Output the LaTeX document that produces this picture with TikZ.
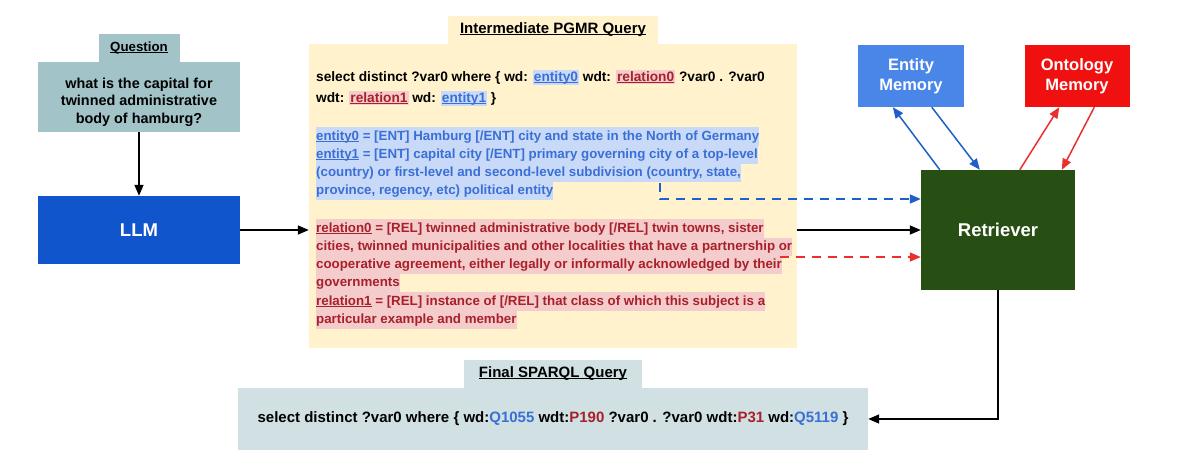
\documentclass[tikz,border=0pt]{standalone}
\usepackage{fontspec}
\setmainfont{Liberation Sans}
\usetikzlibrary{positioning,arrows.meta}

\definecolor{qgray}{HTML}{A2C4C9}
\definecolor{llmblue}{HTML}{1155CC}
\definecolor{pgmrbg}{HTML}{FFF2CC}
\definecolor{entbg}{HTML}{C9DAF8}
\definecolor{enttext}{HTML}{3A6FD6}
\definecolor{relbg}{HTML}{F4CCCC}
\definecolor{reltext}{HTML}{A8202A}
\definecolor{retgreen}{HTML}{274E13}
\definecolor{entmem}{HTML}{4A86E8}
\definecolor{ontmem}{HTML}{F01010}
\definecolor{finalbg}{HTML}{D0E0E3}
\definecolor{arrblue}{HTML}{1E5FC8}
\definecolor{arrred}{HTML}{E8302E}

\newsavebox{\undlbox}
\newcommand{\undl}[1]{\sbox{\undlbox}{#1}\rlap{\rule[-1.7pt]{\wd\undlbox}{0.9pt}}\usebox{\undlbox}}
\newcommand{\entmark}[1]{{\fboxsep=1pt\colorbox{entbg}{\color{enttext}\undl{#1}}}}
\newcommand{\relmark}[1]{{\fboxsep=1pt\colorbox{relbg}{\color{reltext}\undl{#1}}}}
\newcommand{\hlrow}[2]{{\fboxsep=0pt\colorbox{#1}{\strut #2}}}

\begin{document}
\begin{tikzpicture}[x=1pt,y=-1pt,
  box/.style={inner sep=0pt, align=center},
  tab/.style={inner sep=0pt, minimum height=28pt, font=\bfseries\fontsize{15}{17}\selectfont},
  conn/.style={-{Triangle[length=11pt,width=9pt]}, line width=1.5pt},
  dconn/.style={conn, dash pattern=on 9pt off 7pt}]
\useasboundingbox (0,0) rectangle (1179,464);

% question and llm
\node[box, fill=qgray, minimum width=202pt, minimum height=70pt] (question) at (139,97) {};
\node[box, font=\bfseries\fontsize{14.4}{17.5}\selectfont] (qtext) at (139,102)
  {what is the capital for\\twinned administrative\\body of hamburg?};
\node[tab, fill=qgray, minimum width=81pt, above=0pt of question,
  font=\bfseries\fontsize{13.3}{15}\selectfont] (qtab) {\undl{Question}};
\node[box, fill=llmblue, text=white, minimum width=202pt, minimum height=68pt,
  font=\bfseries\fontsize{18.5}{21}\selectfont] (llm) at (139,230) {LLM};

% intermediate query
\node[box, fill=pgmrbg, minimum width=488pt, minimum height=304pt] (pgmr) at (553,196) {};
\node[tab, fill=pgmrbg, minimum width=210pt, above=0pt of pgmr] (pgmrtab) {\undl{Intermediate PGMR Query}};

\node[inner sep=0pt, align=left, anchor=north west, font=\bfseries\fontsize{13.7}{21}\selectfont]
  (select) at (316,70)
  {select distinct ?var0 where \{ wd: \entmark{entity0} wdt: \relmark{relation0} ?var0 . ?var0\\
   wdt: \relmark{relation1} wd: \entmark{entity1} \}};

\node[inner sep=0pt, align=left, anchor=north west, text=enttext,
  font=\bfseries\fontsize{13.3}{18.3}\selectfont] (entdef) at (316,127)
  {\hlrow{entbg}{\undl{entity0} = [ENT] Hamburg [/ENT] city and state in the North of Germany}\\
   \hlrow{entbg}{\undl{entity1} = [ENT] capital city [/ENT] primary governing city of a top-level}\\
   \hlrow{entbg}{(country) or first-level and second-level subdivision (country, state,}\\
   \hlrow{entbg}{province, regency, etc) political entity}};

\node[inner sep=0pt, align=left, anchor=north west, text=reltext,
  font=\bfseries\fontsize{13.3}{18.3}\selectfont] (reldef) at (316,219)
  {\hlrow{relbg}{\undl{relation0} = [REL] twinned administrative body [/REL] twin towns, sister}\\
   \hlrow{relbg}{cities, twinned municipalities and other localities that have a partnership or}\\
   \hlrow{relbg}{cooperative agreement, either legally or informally acknowledged by their}\\
   \hlrow{relbg}{governments}\\
   \hlrow{relbg}{\undl{relation1} = [REL] instance of [/REL] that class of which this subject is a}\\
   \hlrow{relbg}{particular example and member}};

% retriever and memories
\node[box, fill=retgreen, text=white, minimum width=154pt, minimum height=120pt,
  font=\bfseries\fontsize{18.5}{21}\selectfont] (retriever) at (998,230) {Retriever};
\node[box, fill=entmem, text=white, minimum width=106pt, minimum height=62pt,
  font=\bfseries\fontsize{16.5}{20}\selectfont] (entity) at (911,76) {Entity\\Memory};
\node[box, fill=ontmem, text=white, minimum width=105pt, minimum height=62pt,
  font=\bfseries\fontsize{16.5}{20}\selectfont] (ontology) at (1077,76) {Ontology\\Memory};

% final query
\node[box, fill=finalbg, minimum width=630pt, minimum height=62pt,
  font=\bfseries\fontsize{15}{17}\selectfont] (final) at (553,419)
  {select distinct ?var0 where \{ wd:\textcolor{enttext}{Q1055} wdt:\textcolor{reltext}{P190} ?var0 . ?var0 wdt:\textcolor{reltext}{P31} wd:\textcolor{enttext}{Q5119} \}};
\node[tab, fill=finalbg, minimum width=178pt, above=0pt of final] (finaltab) {\undl{Final SPARQL Query}};

\coordinate (entsrc) at (660,183);
\coordinate (relsrc) at (780,257);

\draw [conn] (question) -- (llm);
\draw [conn] (llm) -- (pgmr.west |- llm.east);
\draw [conn] (pgmr.east |- retriever.west) -- (retriever.west);
\draw [dconn, arrblue] (entsrc) |- ([yshift=31pt]retriever.west);
\draw [dconn, arrred] (relsrc) -- ([yshift=-27pt]retriever.west);
\draw [conn, arrblue] ([xshift=19pt]retriever.north west) -- ([xshift=35pt]entity.south west);
\draw [conn, arrblue] ([xshift=74pt]entity.south west) -- ([xshift=59pt]retriever.north west);
\draw [conn, arrred] ([xshift=99pt]retriever.north west) -- ([xshift=35pt]ontology.south west);
\draw [conn, arrred] ([xshift=70pt]ontology.south west) -- ([xshift=141pt]retriever.north west);
\draw [conn] (retriever.south) |- (final.east);
\end{tikzpicture}
\end{document}
